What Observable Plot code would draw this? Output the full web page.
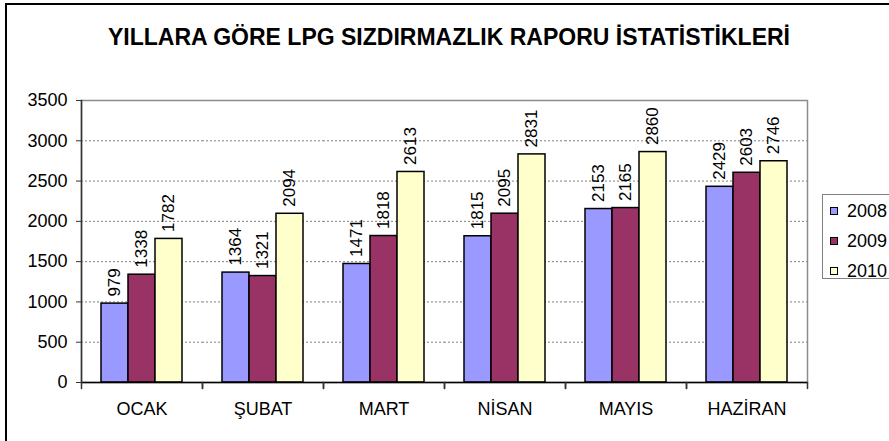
<!DOCTYPE html>
<html>
<head>
<meta charset="utf-8">
<script src="https://cdn.jsdelivr.net/npm/d3@7"></script>
<script src="https://cdn.jsdelivr.net/npm/@observablehq/plot@0.6"></script>
<style>
  html, body { margin: 0; padding: 0; background: #fff; }
  body { width: 889px; height: 441px; overflow: hidden; font-family: "Liberation Sans", Arial, sans-serif; }
  #wrap { position: relative; width: 889px; height: 441px; overflow: hidden; }
  #border { position: absolute; left: 5px; top: 3px; width: 920px; height: 480px; border: 2px solid #000; box-sizing: border-box; }
  #title { position: absolute; left: 0; top: 0; }
  #chart { position: absolute; left: 0; top: 70px; }
  #legend { position: absolute; left: 822px; top: 194px; width: 90px; height: 85px; border: 1px solid #808080; box-sizing: border-box; background: #fff; }
  .item { position: absolute; left: 7px; height: 20px; font-size: 18px; line-height: 20px; color: #000; }
  .sw { position: absolute; left: 0; top: 6px; width: 6px; height: 6px; border: 1px solid #000; }
  .lbl { position: absolute; left: 17px; top: 0; white-space: nowrap; }
</style>
</head>
<body>
<div id="wrap">
  <div id="border"></div>
  <svg id="title" width="889" height="70"></svg>
  <div id="chart"></div>
  <div id="legend"></div>
</div>
<script>
const titleText = "YILLARA GÖRE LPG SIZDIRMAZLIK RAPORU İSTATİSTİKLERİ";
const months = ["OCAK", "ŞUBAT", "MART", "NİSAN", "MAYIS", "HAZİRAN"];
const years = ["2008", "2009", "2010"];
const v2008 = [979, 1364, 1471, 1815, 2153, 2429];
const v2009 = [1338, 1321, 1818, 2095, 2165, 2603];
const v2010 = [1782, 2094, 2613, 2831, 2860, 2746];
const colors = ["#9999FF", "#993366", "#FFFFCC"];
const yTicks = [0, 500, 1000, 1500, 2000, 2500, 3000, 3500];

const series = [v2008, v2009, v2010];
const data = [];
months.forEach((m, i) => {
  years.forEach((y, j) => data.push({month: m, year: y, value: series[j][i]}));
});

// Title
const tsvg = d3.select("#title");
tsvg.append("text")
  .attr("x", 449).attr("y", 45)
  .attr("text-anchor", "middle")
  .attr("font-family", "'Liberation Sans', Arial, sans-serif")
  .attr("font-weight", "bold")
  .attr("font-size", 23)
  .attr("textLength", 682)
  .attr("lengthAdjust", "spacingAndGlyphs")
  .text(titleText);

// a plain line shape for the category boundary tick marks
const lineShape = {draw(context, l) { context.moveTo(0, 0); context.lineTo(0, -l); }};
const boundaryTick = anchor => Plot.vector([0], {
  frameAnchor: anchor, length: 6, rotate: 180, anchor: "start",
  shape: lineShape, stroke: "#333", strokeWidth: 1.5
});

const chart = Plot.plot({
  width: 889,
  height: 371,
  marginLeft: 80,
  marginRight: 82,
  marginTop: 30,
  marginBottom: 59,
  style: {fontFamily: "'Liberation Sans', Arial, sans-serif", fontSize: "18px", color: "#000", background: "transparent"},
  fx: {domain: months, padding: 0, label: null},
  x: {domain: years, paddingInner: 0, paddingOuter: 0.72, axis: null},
  y: {domain: [0, 3500], label: null},
  color: {domain: years, range: colors},
  marks: [
    Plot.gridY(yTicks, {stroke: "#808080", strokeOpacity: 1, strokeDasharray: "2,2"}),
    Plot.frame({facet: "super", stroke: "#8c8c8c", strokeWidth: 1.5}),
    Plot.barY(data, {fx: "month", x: "year", y: "value", fill: "year", stroke: "#000", strokeWidth: 1.5}),
    Plot.ruleY([0], {stroke: "#000", strokeWidth: 1.5}),
    Plot.frame({facet: "super", anchor: "left", stroke: "#333", strokeWidth: 1.5}),
    boundaryTick("bottom-left"),
    boundaryTick("bottom-right"),
    Plot.text(data, {fx: "month", x: "year", y: "value", text: d => String(d.value), rotate: -90, textAnchor: "start", dy: -7, fontSize: 17, fill: "#000"}),
    Plot.axisY(yTicks, {tickSize: 5, tickPadding: 9, tickFormat: d => String(d), label: null, fontSize: 18, stroke: "#333"}),
    Plot.axisFx({anchor: "bottom", tickSize: 0, tickPadding: 20, label: null, fontSize: 18})
  ]
});
document.getElementById("chart").appendChild(chart);

// Legend
const legend = d3.select("#legend");
years.forEach((y, i) => {
  const item = legend.append("div").attr("class", "item").style("top", (6 + i * 30) + "px");
  item.append("div").attr("class", "sw").style("background", colors[i]);
  item.append("div").attr("class", "lbl").text(y);
});
</script>
</body>
</html>
